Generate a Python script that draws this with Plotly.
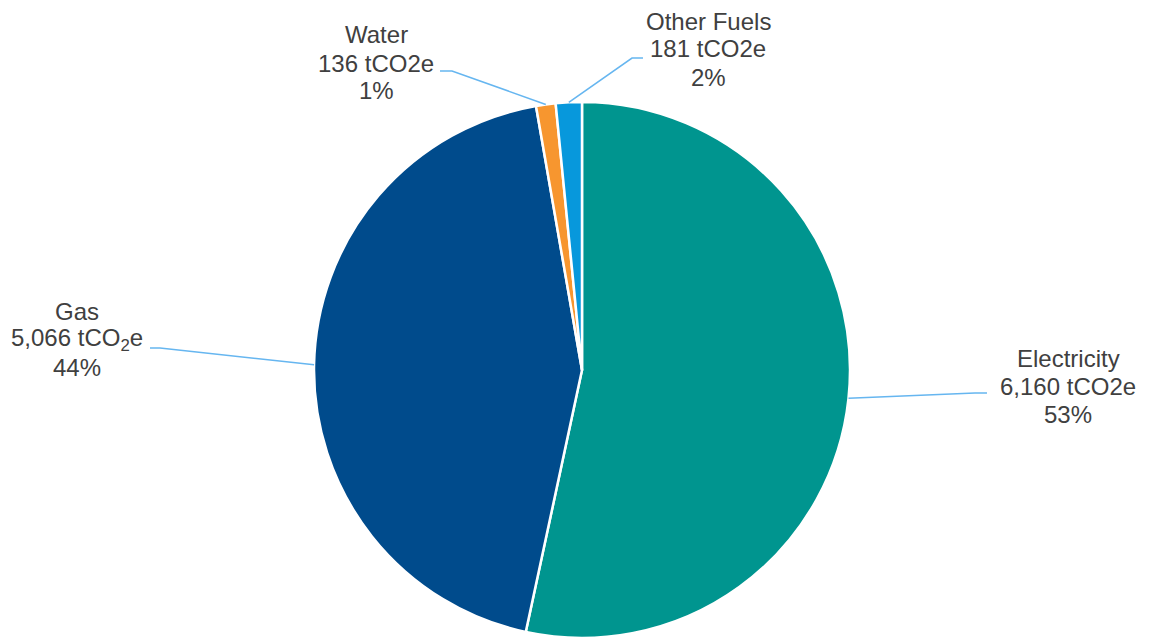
import math
import plotly.graph_objects as go

categories = ["Electricity", "Gas", "Water", "Other Fuels"]
values = [6160, 5066, 136, 181]
value_labels = ["6,160 tCO2e", "5,066 tCO<sub>2</sub>e", "136 tCO2e", "181 tCO2e"]
pct_labels = ["53%", "44%", "1%", "2%"]
colors = ["#00958F", "#004B8C", "#F7962F", "#0798DC"]

W, H = 1157, 637
OFF = 8  # page body margin in pixels
# pie placement (pixels in the screenshot)
CX, CY, R = 582, 370, 268


def px2paper(x, y):
    return (x - OFF) / W, 1 - (y - OFF) / H


dom_x = [(CX - OFF - R) / W, (CX - OFF + R) / W]
dom_y = [(H - (CY - OFF) - R) / H, (H - (CY - OFF) + R) / H]

fig = go.Figure(go.Pie(
    labels=categories, values=values, sort=False, direction="clockwise",
    rotation=0, textinfo="none", hoverinfo="label+value+percent",
    marker=dict(colors=colors, line=dict(color="white", width=2.5)),
    domain=dict(x=dom_x, y=dom_y), showlegend=False,
))

# label placement: (text center x, first line center y, elbow x, elbow y, end x) in pixels
label_pos = {
    "Electricity": (1068, 358, 975, 393, 987),
    "Gas": (77, 311, 160, 348, 150),
    "Water": (376, 35, 452, 71, 440),
    "Other Fuels": (708, 21, 632, 58, 643),
}
LINE_GAP = 28

total = sum(values)
cum = 0.0
shapes = []
annotations = []
font = dict(family="Liberation Sans, Arial, sans-serif", size=24, color="#404040")
for cat, v, vl, pl in zip(categories, values, value_labels, pct_labels):
    mid = (cum + v / 2) / total
    cum += v
    ang = 2 * math.pi * mid
    px = CX + R * math.sin(ang)
    py = CY - R * math.cos(ang)
    tx, ty, ex, ey, endx = label_pos[cat]
    a = px2paper(px, py)
    b = px2paper(ex, ey)
    c = px2paper(endx, ey)
    path = f"M {a[0]:.5f},{a[1]:.5f} L {b[0]:.5f},{b[1]:.5f} L {c[0]:.5f},{c[1]:.5f}"
    shapes.append(dict(type="path", xref="paper", yref="paper", path=path,
                       line=dict(color="#66B6F0", width=1.6)))
    for i, line in enumerate([cat, vl, pl]):
        ax, ay = px2paper(tx, ty + i * LINE_GAP)
        annotations.append(dict(
            x=ax, y=ay, xref="paper", yref="paper",
            xanchor="center", yanchor="middle", showarrow=False, align="center",
            text=line, font=font,
        ))

fig.update_layout(
    width=W, height=H, margin=dict(l=0, r=0, t=0, b=0),
    paper_bgcolor="white", plot_bgcolor="white",
    shapes=shapes, annotations=annotations,
)

fig.write_html("out.html")
